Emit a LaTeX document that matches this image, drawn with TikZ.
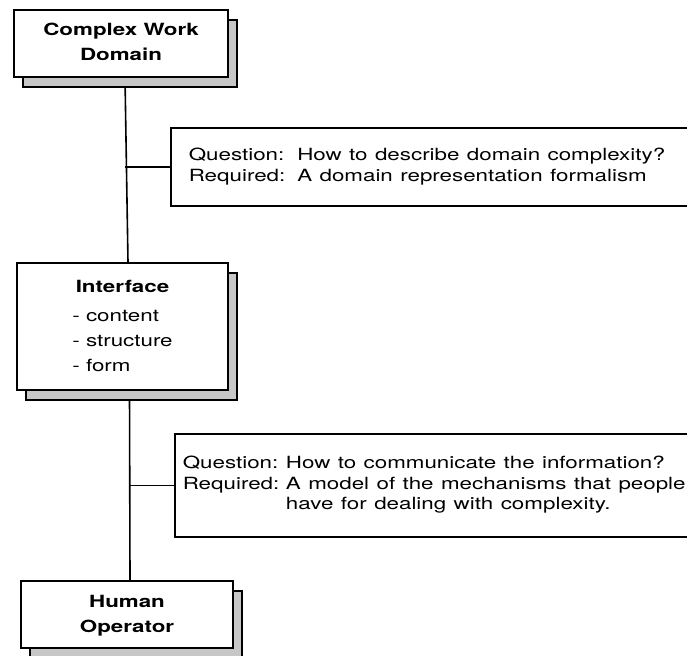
\documentclass[tikz,border=0pt]{standalone}
\usepackage{fontspec}
\setmainfont{TeX Gyre Heros}
\usepackage{graphicx}
\usetikzlibrary{shadows,backgrounds}
\newcommand{\widetext}[1]{\scalebox{1.33}[1]{#1}}
\tikzset{levelbox/.style={rectangle,draw,fill=white,line width=1.6pt,inner sep=0pt,
    general shadow={shadow xshift=9pt,shadow yshift=-10pt,draw,fill=black!22,line width=1.3pt},
    font=\fontsize{16.8}{25}\selectfont},
  notebox/.style={rectangle,draw,fill=white,line width=1.6pt,anchor=north west,
    inner ysep=0pt,text width=520pt,align=left,font=\fontsize{16.8}{20.5}\selectfont},
  trunk/.style={line width=1.6pt}}

\begin{document}
\begin{tikzpicture}[x=1pt,y=-1pt]

\path[use as bounding box,clip] (0,0) rectangle (687,655);

  % nodes

  \node[levelbox, minimum width=214pt, minimum height=67pt] (domain) at (121,43.5)
    {\widetext{\textbf{\begin{tabular}{@{}c@{}}Complex Work\\Domain\end{tabular}}}};
  \node[levelbox, minimum width=211pt, minimum height=127pt] (interface) at (122.5,326.5)
    {\widetext{\begin{tabular}{@{}l@{}}\multicolumn{1}{@{}c@{}}{\textbf{Interface}}\\[4pt]
      - content\\ - structure\\ - form\end{tabular}}};
  \node[levelbox, minimum width=212pt, minimum height=67pt] (operator) at (127,614.5)
    {\widetext{\textbf{\begin{tabular}{@{}c@{}}Human\\Operator\end{tabular}}}};

  \node[notebox, inner xsep=18pt, minimum height=78pt] (domainq) at (170,127)
    {\widetext{\begin{tabular}{@{}l@{\hspace{9pt}}l@{}}Question: & How to describe domain complexity?\\
      Required: & A domain representation formalism\end{tabular}}};
  \node[notebox, inner xsep=8pt, minimum height=103pt] (peopleq) at (174,433)
    {\widetext{\begin{tabular}{@{}l@{\hspace{5pt}}l@{}}Question: & How to communicate the information?\\
      Required: & A model of the mechanisms that people\\
      & have for dealing with complexity.\end{tabular}}};

  \coordinate (tee1) at ([xshift=4pt]domain.south |- domainq.west);
  \coordinate (tee2) at ([xshift=7pt]interface.south |- peopleq.west);

  %  edges
\begin{scope}[on background layer]
  \fill[white] (0,0) rectangle (687,655);
  \draw[trunk] ([xshift=4pt]domain.south) to ([xshift=5.5pt]interface.north);
  \draw[trunk] ([xshift=7pt]interface.south) to ([xshift=3pt]operator.north);
\end{scope}
  \draw[trunk] (tee1) to (domainq.west);
  \draw[trunk] (tee2) to (peopleq.west);

\end{tikzpicture}
\end{document}
